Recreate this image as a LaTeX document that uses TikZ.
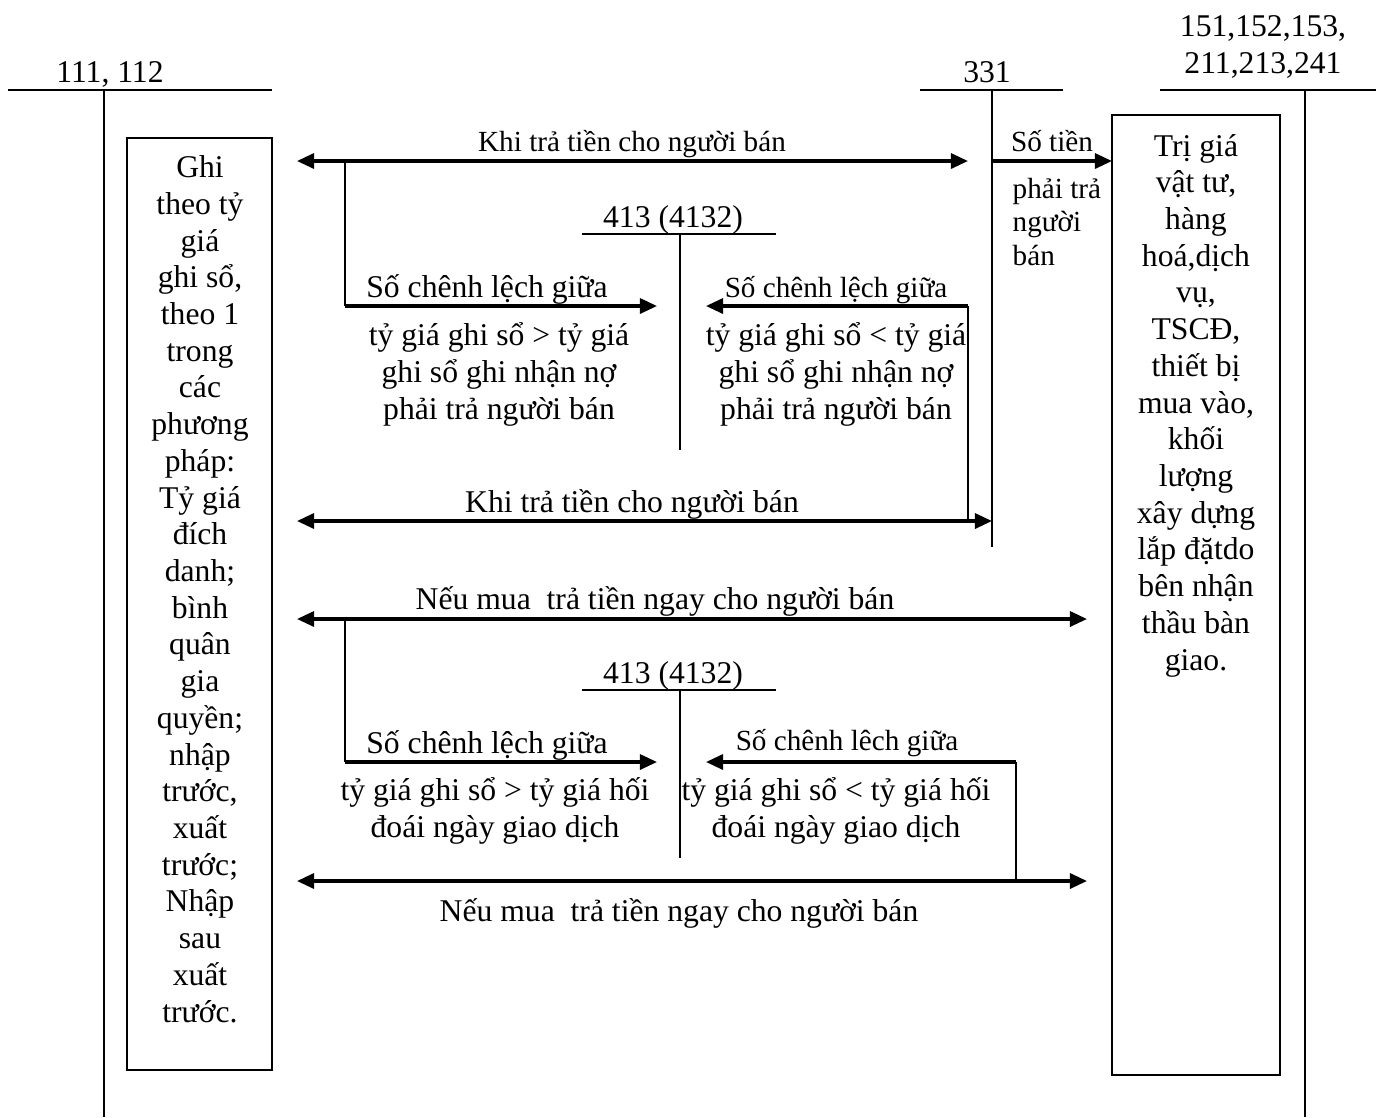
\documentclass[tikz,border=0pt]{standalone}
\usepackage{fontspec}
\setmainfont{Liberation Serif}
\usetikzlibrary{arrows.meta}

\begin{document}
\begin{tikzpicture}[x=0.01cm,y=-0.01cm,
    >={Triangle[length=1.7mm,width=1.5mm]},
    compte/.style={line width=0.6pt},
    fl/.style={line width=0.9pt},
    txt/.style={inner sep=0pt,align=center,font=\fontsize{9}{10.44}\selectfont},
    petit/.style={inner sep=0pt,align=center,font=\fontsize{8.3}{9.4}\selectfont}]
\useasboundingbox (0,0) rectangle (1384,1117);

% Comptes en T
\node[txt,anchor=base] (c111) at (110,82) {111, 112};
\draw[compte] (8,90) coordinate (c111g) -- (272,90) coordinate (c111d);
\draw[compte] (104,90) coordinate (c111h) -- (104,1117) coordinate (c111b);

\node[txt,anchor=base] (c331) at (987,82) {331};
\draw[compte] (920,90) coordinate (c331g) -- (1063,90) coordinate (c331d);
\draw[compte] (992,90) coordinate (c331h) -- (992,547) coordinate (c331b);

\node[txt,anchor=base] (c151) at (1263,73) {151,152,153,\\211,213,241};
\draw[compte] (1160,90) coordinate (c151g) -- (1376,90) coordinate (c151d);
\draw[compte] (1305,90) coordinate (c151h) -- (1305,1117) coordinate (c151b);

\node[txt,anchor=base] (c413a) at (673,227) {413 (4132)};
\draw[compte] (582,234) coordinate (c413ag) -- (776,234) coordinate (c413ad);
\draw[compte] (680,234) coordinate (c413ah) -- (680,450) coordinate (c413ab);

\node[txt,anchor=base] (c413b) at (673,683) {413 (4132)};
\draw[compte] (582,690) coordinate (c413bg) -- (776,690) coordinate (c413bd);
\draw[compte] (680,690) coordinate (c413bh) -- (680,858) coordinate (c413bb);

% Cadres
\draw[compte] (127,138) rectangle (272,1070);
\node[txt,anchor=base] (ghi) at (200,1022) {Ghi\\theo tỷ\\giá\\ghi sổ,\\theo 1\\trong\\các\\phương\\pháp:\\Tỷ giá\\đích\\danh;\\bình\\quân\\gia\\quyền;\\nhập\\trước,\\xuất\\trước;\\Nhập\\sau\\xuất\\trước.};
\draw[compte] (1112,115) rectangle (1280,1075);
\node[txt,anchor=base] (trigia) at (1196,670) {Trị giá\\vật tư,\\hàng\\hoá,dịch\\vụ,\\TSCĐ,\\thiết bị\\mua vào,\\khối\\lượng\\xây dựng\\lắp đặtdo\\bên nhận\\thầu bàn\\giao.};

% Points des fleches
\coordinate (a1g) at (297,161); \coordinate (a1d) at (968,161); \coordinate (n1) at (345,161);
\coordinate (p1) at (657,306); \coordinate (p2) at (706,306); \coordinate (n2) at (968,521);
\coordinate (a2g) at (297,521); \coordinate (a2d) at (992,521);
\coordinate (s1) at (992,161); \coordinate (s2) at (1112,161);
\coordinate (a3g) at (297,619); \coordinate (a3d) at (1087,619); \coordinate (n3) at (345,619);
\coordinate (p3) at (657,762); \coordinate (p4) at (706,762); \coordinate (n4) at (1016,881);
\coordinate (a4g) at (297,881); \coordinate (a4d) at (1087,881);

% Fleches
\draw[fl,<->] (a1g) -- (a1d);
\draw[compte] (n1) -- (n1 |- p1);
\draw[fl,->] (n1 |- p1) -- (p1);
\draw[compte] (n2) -- (n2 |- p2);
\draw[fl,->] (n2 |- p2) -- (p2);
\draw[fl,<->] (a2g) -- (a2d);
\draw[fl,->] (s1) -- (s2);
\draw[fl,<->] (a3g) -- (a3d);
\draw[compte] (n3) -- (n3 |- p3);
\draw[fl,->] (n3 |- p3) -- (p3);
\draw[compte] (n4) -- (n4 |- p4);
\draw[fl,->] (n4 |- p4) -- (p4);
\draw[fl,<->] (a4g) -- (a4d);

% Textes
\node[petit,anchor=base] (t1) at (632,151) {Khi trả tiền cho người bán};
\node[txt,anchor=base] (t2) at (487,297) {Số chênh lệch giữa};
\node[txt,anchor=base] (t3) at (499,419) {tỷ giá ghi sổ > tỷ giá\\ghi sổ ghi nhận nợ\\phải trả người bán};
\node[petit,anchor=base] (t4) at (836,297) {Số chênh lệch giữa};
\node[txt,anchor=base] (t5) at (836,419) {tỷ giá ghi sổ < tỷ giá\\ghi sổ ghi nhận nợ\\phải trả người bán};
\node[txt,anchor=base] (t6) at (632,512) {Khi trả tiền cho người bán};
\node[petit,anchor=base] (t7) at (1052,151) {Số tiền};
\node[petit,anchor=base west,align=left] (t8) at (1012,265) {phải trả\\người\\bán};
\node[txt,anchor=base] (t9) at (655,609) {Nếu mua~ trả tiền ngay cho người bán};
\node[txt,anchor=base] (t10) at (487,753) {Số chênh lệch giữa};
\node[txt,anchor=base] (t11) at (495,837) {tỷ giá ghi sổ > tỷ giá hối\\đoái ngày giao dịch};
\node[petit,anchor=base] (t12) at (847,750) {Số chênh lêch giữa};
\node[txt,anchor=base] (t13) at (836,837) {tỷ giá ghi sổ < tỷ giá hối\\đoái ngày giao dịch};
\node[txt,anchor=base] (t14) at (679,921) {Nếu mua~ trả tiền ngay cho người bán};
\end{tikzpicture}
\end{document}
